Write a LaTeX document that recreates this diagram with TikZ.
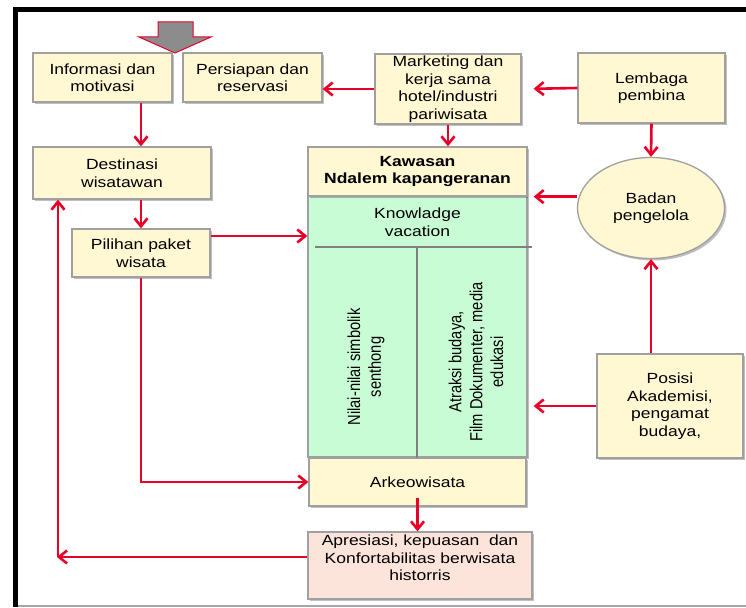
\documentclass[tikz,border=0pt]{standalone}
\usepackage{fontspec}
\setmainfont{Liberation Sans}[FakeStretch=1.19]
\newfontfamily\rotfont{Liberation Sans}
\usetikzlibrary{arrows.meta,shapes.geometric,shadows}
\definecolor{byel}{RGB}{255,248,210}
\definecolor{bgreen}{RGB}{200,252,212}
\definecolor{bpink}{RGB}{252,228,219}
\definecolor{bline}{RGB}{160,160,160}
\definecolor{ared}{RGB}{232,0,40}
\definecolor{agray}{RGB}{140,140,140}
\begin{document}
\begin{tikzpicture}[x=1pt,y=-1pt,
 every node/.style={font=\fontsize{14.7}{17.5}\selectfont, align=center, inner sep=0pt},
 box/.style={draw=bline, line width=1.3pt, fill=byel, drop shadow={shadow xshift=2pt,shadow yshift=-2pt,fill=black,opacity=0.25}},
 arr/.style={draw=ared, line width=2.6pt, -{Straight Barb[length=8pt,width=13pt]}},
 rottext/.style={rotate=90, yscale=1.19, font=\rotfont\fontsize{14.7}{17.5}\selectfont},
 divline/.style={draw=gray, line width=2pt}]
\useasboundingbox (0,0) rectangle (746,607);
\fill[white] (0,0) rectangle (746,607);
% frame
\draw[black, line width=5pt] (15.5,7) -- (15.5,607);
\draw[black, line width=5pt] (13,9.5) -- (746,9.5);
\draw[gray!70, line width=1.5pt] (18,606) -- (746,606);
% block arrow
\filldraw[fill=agray, draw=ared, line width=1pt] (158,22) -- (193,22) -- (193,37) -- (211,37) -- (175,53) -- (139,37) -- (158,37) -- cycle;
% boxes
\node[box, minimum width=139pt, minimum height=49pt] (info) at (102.5,77.5) {Informasi dan\\motivasi};
\node[box, minimum width=139pt, minimum height=49pt] (pers) at (252.5,77.5) {Persiapan dan\\reservasi};
\node[box, minimum width=146pt, minimum height=70pt] (mark) at (448,89) {Marketing dan\\kerja sama\\hotel/industri\\pariwisata};
\node[box, minimum width=147pt, minimum height=70pt] (lemb) at (651.5,88) {Lembaga\\pembina};
\node[box, minimum width=178pt, minimum height=52pt] (dest) at (122,173) {Destinasi\\wisatawan};
\node[box, minimum width=138pt, minimum height=48pt] (pil) at (141,253) {Pilihan paket\\wisata};
\node[box, fill=bgreen, minimum width=219pt, minimum height=261pt] (green) at (417.5,326.5) {};
\node[box, minimum width=219pt, minimum height=49pt] (kaw) at (417.5,171.5) {\bfseries Kawasan\\\bfseries Ndalem kapangeranan};
\node[box, minimum width=217pt, minimum height=48pt] (arke) at (417.5,482) {Arkeowisata};
\node[box, fill=bpink, minimum width=224pt, minimum height=67pt] (aprbox) at (420,565.5) {};
\node (apr) at (420,558) {Apresiasi, kepuasan~ dan\\Konfortabilitas berwisata\\historris};
\node[box, ellipse, minimum width=147pt, minimum height=101pt] (badan) at (651,208) {Badan\\pengelola};
\node[box, minimum width=146pt, minimum height=104pt] (pos) at (670,406) {Posisi\\Akademisi,\\pengamat\\budaya,};
% green interior
\node (know) at (417.5,222) {Knowladge\\vacation};
\coordinate (hl) at (315,247);
\coordinate (hr) at (532,247);
\coordinate (vt) at (417,247);
\draw[divline] (hl) -- (hr);
\draw[divline] (vt) -- (vt |- green.south);
\node[rottext] (nilai) at (366,367) {Nilai-nilai simbolik\\senthong};
\node[rottext] (atr) at (476,362) {Atraksi budaya,\\Film Dokumenter, media\\edukasi};
% connectors
\coordinate (pe) at ([yshift=17pt]pil.east);
\draw[arr] (mark.west) -- (pers.east |- mark.west);
\draw[arr, shorten >=12pt] (lemb.west) -- (mark.east);
\draw[arr] (mark.south) -- (kaw.north -| mark.south);
\draw[arr] (lemb.south) -- (badan.north);
\draw[arr] (info.south -| pil.north) -- (dest.north -| pil.north);
\draw[arr] (dest.south -| pil.north) -- (pil.north);
\draw[arr] (pe) -- (green.west |- pe);
\draw[arr, shorten >=6pt] (badan.west |- kaw.south east) -- (kaw.south east);
\draw[arr] (pos.north -| badan.south) -- (badan.south);
\draw[arr, shorten >=6pt] (pos.west) -- (green.east |- pos.west);
\draw[arr] (pil.south) |- (arke.west);
\draw[arr] ([yshift=9pt]arke.south) -- (aprbox.north -| arke.south);
\coordinate (lc) at (57,557);
\coordinate (lc2) at (58,557);
\draw[arr] (aprbox.west |- lc) -- (lc);
\draw[arr] (lc2) -- (dest.south -| lc2);
\end{tikzpicture}
\end{document}
